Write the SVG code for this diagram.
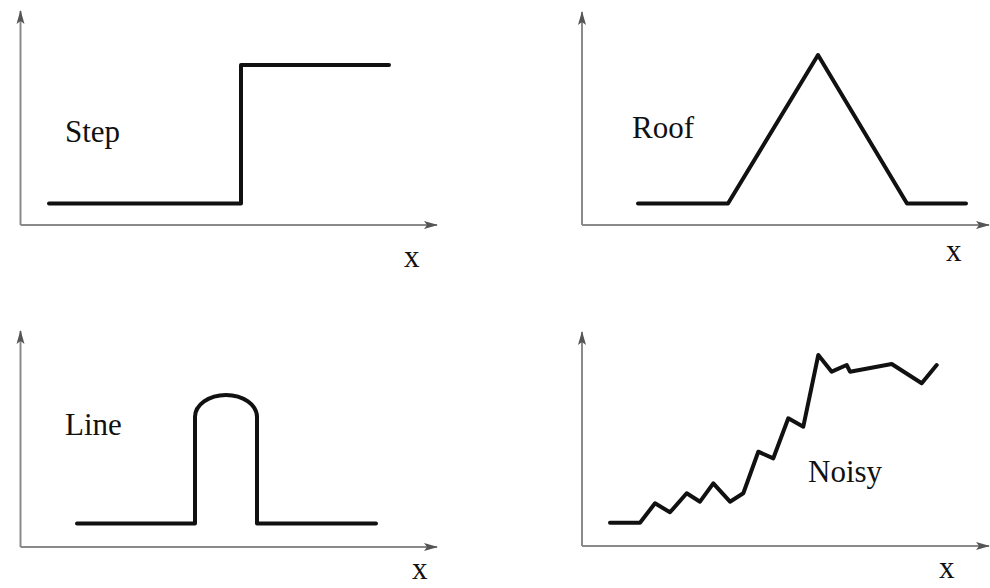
<svg xmlns="http://www.w3.org/2000/svg" width="990" height="588" viewBox="0 0 990 588">
<defs>
<marker id="ah" viewBox="0 0 14 10" refX="13" refY="5" markerWidth="14" markerHeight="10" markerUnits="userSpaceOnUse" orient="auto">
<path d="M0,1 L14,5 L0,9 L3,5 Z" fill="#555"/>
</marker>
</defs>
<style>
.axis{stroke:#8a8a8a;stroke-width:2;fill:none}
.sig{stroke:#111;stroke-width:4;fill:none;stroke-linejoin:round;stroke-linecap:round}
text{font-family:"Liberation Serif","DejaVu Serif",serif;font-size:31px;fill:#111}
</style>
<rect width="990" height="588" fill="#fff"/>
<g id="step">
<path class="axis" d="M20.5,225 L20.5,11" marker-end="url(#ah)"/>
<path class="axis" d="M20.5,225 L437,225" marker-end="url(#ah)"/>
<path class="sig" d="M49,203.5 L241,203.5 L241,65 L389,65"/>
<text x="65" y="142" font-family="Liberation Serif, serif">Step</text>
<text x="404" y="267" font-family="Liberation Serif, serif">x</text>
</g>
<g id="roof">
<path class="axis" d="M582,225 L582,12" marker-end="url(#ah)"/>
<path class="axis" d="M582,225 L989,225" marker-end="url(#ah)"/>
<path class="sig" d="M638,203.5 L728,203.5 L818,55 L907,203.5 L966,203.5"/>
<text x="632" y="138" font-family="Liberation Serif, serif">Roof</text>
<text x="946" y="261" font-family="Liberation Serif, serif">x</text>
</g>
<g id="line">
<path class="axis" d="M20.5,547 L20.5,331" marker-end="url(#ah)"/>
<path class="axis" d="M20.5,547 L437,547" marker-end="url(#ah)"/>
<path class="sig" d="M77,523.5 L195,523.5 L195,417 A31,22 0 0 1 257,417 L257,523.5 L376,523.5"/>
<text x="65" y="435" font-family="Liberation Serif, serif">Line</text>
<text x="412" y="579" font-family="Liberation Serif, serif">x</text>
</g>
<g id="noisy">
<path class="axis" d="M582,546 L582,332" marker-end="url(#ah)"/>
<path class="axis" d="M582,546 L989,546" marker-end="url(#ah)"/>
<path class="sig" d="M610,522.7 L640,522.7 L655,503.3 L670,512.3 L686.7,493.3 L700,501.7 L713.3,483.3 L730,501.7 L743.3,493.3 L758.3,451.7 L773.3,458.3 L788.3,418.3 L803.3,426.7 L818.3,355 L831.7,371.7 L846.7,365 L850,371.7 L891.7,364 L921.7,383.3 L936.7,365"/>
<text x="808" y="482" font-family="Liberation Serif, serif">Noisy</text>
<text x="939" y="578" font-family="Liberation Serif, serif">x</text>
</g>
</svg>
